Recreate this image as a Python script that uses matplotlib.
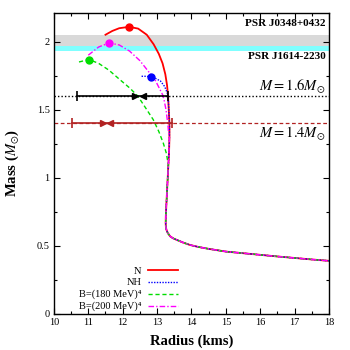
import matplotlib
matplotlib.use('Agg')
import matplotlib.pyplot as plt
from matplotlib.ticker import MultipleLocator

plt.rcParams['font.family'] = ['Liberation Serif', 'DejaVu Serif']
plt.rcParams['mathtext.fontset'] = 'stix'

# shared low-mass branch (radius km, mass Msun)
low_r = [13.36, 13.36, 13.35, 13.33, 13.31, 13.29, 13.27, 13.255, 13.25, 13.255, 13.27, 13.31,
         13.38, 13.47, 13.57, 13.75, 13.95, 14.2, 14.5, 15.0, 15.5, 16.0, 16.5, 17.0, 17.5, 18.0]
low_m = [1.40, 1.30, 1.20, 1.10, 1.00, 0.90, 0.80, 0.72, 0.67, 0.645, 0.62, 0.595,
         0.57, 0.555, 0.544, 0.525, 0.507, 0.492, 0.478, 0.458, 0.446, 0.434, 0.422, 0.411, 0.40, 0.39]

# high-mass branches of each EoS
n_r = [11.50, 11.70, 11.90, 12.19, 12.45, 12.70, 12.90, 13.05, 13.16, 13.24, 13.29, 13.32, 13.34]
n_m = [2.05, 2.078, 2.098, 2.108, 2.095, 2.05, 1.98, 1.91, 1.84, 1.76, 1.68, 1.60, 1.50]

nh_r = [12.55, 12.70, 12.81, 12.95, 13.10, 13.22, 13.30, 13.33]
nh_m = [1.745, 1.745, 1.74, 1.73, 1.71, 1.67, 1.62, 1.56]

b180_r = [10.73, 11.02, 11.30, 11.60, 11.92, 12.20, 12.44, 12.70, 12.89, 13.05, 13.18, 13.27, 13.31]
b180_m = [1.85, 1.868, 1.84, 1.79, 1.72, 1.66, 1.60, 1.50, 1.426, 1.34, 1.255, 1.18, 1.12]

b200_r = [11.00, 11.30, 11.61, 11.90, 12.20, 12.50, 12.75, 12.94, 13.10, 13.18, 13.26, 13.31, 13.34]
b200_m = [1.90, 1.96, 1.99, 1.975, 1.93, 1.86, 1.78, 1.72, 1.64, 1.60, 1.50, 1.40, 1.32]

# maximum mass points
max_r = [12.19, 12.81, 11.02, 11.61]
max_m = [2.108, 1.74, 1.868, 1.99]
colors = ['#ff0000', '#0000ff', '#00dd00', '#ff00ff']
labels = ['N', 'NH', 'B=(180 MeV)\u2074', 'B=(200 MeV)\u2074']

# pulsar bands
psr_bands = [(1.97, 2.05, '#d9d9d9'), (1.93, 1.97, '#80ffff')]

# radius constraints
bar16_r = [10.68, 13.32]
bar16_arrows = [12.37, 12.58]
bar14_r = [10.53, 13.43]
bar14_arrows = [11.42, 11.62]

fig = plt.figure(figsize=(3.5, 3.5), dpi=100)
ax = fig.add_axes([0.154, 0.103, 0.786, 0.86])

for lo, hi, c in psr_bands:
    ax.axhspan(lo, hi, color=c, lw=0, zorder=0)

ax.axhline(1.6, color='black', ls=(0, (1, 1.5)), lw=1.0, zorder=1)
ax.axhline(1.4, color='#b22222', ls=(0, (3, 2)), lw=0.9, zorder=1)

styles = [('-', 1.3), ((0, (1, 1)), 1.0), ((0, (3, 2)), 1.0), ((0, (4, 1.5, 1, 1.5)), 1.0)]
branches = [(n_r, n_m), (nh_r, nh_m), (b180_r, b180_m), (b200_r, b200_m)]
for (r, m), (ls, lw), c in zip(branches, styles, colors):
    # continue each branch along the shared low-mass branch below its last point
    tail = [i for i, v in enumerate(low_m) if v < m[-1]]
    rr = r + [low_r[i] for i in tail]
    mm = m + [low_m[i] for i in tail]
    ax.plot(rr, mm, color=c, ls=ls, lw=lw, zorder=3)
for r, m, c in zip(max_r, max_m, colors):
    ax.plot(r, m, 'o', color=c, ms=5, zorder=4)

# key drawn by hand, gnuplot style (label right-aligned, sample to the right)
for i, ((ls, lw), c, lab) in enumerate(zip(styles, colors, labels)):
    yk = 0.145 - 0.039 * i
    ax.plot([0.342, 0.451], [yk, yk], transform=ax.transAxes, color=c, ls=ls, lw=lw)
    ax.text(0.318, yk - 0.011, lab, transform=ax.transAxes, ha='right', va='baseline', fontsize=7.5)

# error bars with arrows
ax.plot(bar16_r, [1.6, 1.6], color='black', lw=1.2, zorder=5)
ax.plot(bar16_r, [1.6, 1.6], '|', color='black', ms=7, mew=1.2, zorder=5)
ax.plot(bar16_arrows[0], 1.6, '>', color='black', ms=4.5, zorder=5)
ax.plot(bar16_arrows[1], 1.6, '<', color='black', ms=4.5, zorder=5)
ax.plot(bar14_r, [1.4, 1.4], color='#b22222', lw=1.2, zorder=5)
ax.plot(bar14_r, [1.4, 1.4], '|', color='#b22222', ms=7, mew=1.2, zorder=5)
ax.plot(bar14_arrows[0], 1.4, '>', color='#b22222', ms=4.5, zorder=5)
ax.plot(bar14_arrows[1], 1.4, '<', color='#b22222', ms=4.5, zorder=5)

ax.text(17.9, 2.13, 'PSR J0348+0432', ha='right', va='center', fontsize=8, fontweight='bold')
ax.text(17.9, 1.89, 'PSR J1614-2230', ha='right', va='center', fontsize=8, fontweight='bold')
ax.text(17.9, 1.665, r'$M=1.6M_{\odot}$', ha='right', va='center', fontsize=10.5)
ax.text(17.9, 1.325, r'$M=1.4M_{\odot}$', ha='right', va='center', fontsize=10.5)

ax.set_xlim(10, 18)
ax.set_ylim(0, 2.21)
ax.set_xticks(range(10, 19))
ax.set_yticks([0, 0.5, 1, 1.5, 2])
ax.set_yticklabels(['0', '0.5', '1', '1.5', '2'])
ax.xaxis.set_minor_locator(MultipleLocator(0.5))
ax.yaxis.set_minor_locator(MultipleLocator(0.25))
ax.tick_params(which='both', direction='in', top=True, right=True, labelsize=7.5, width=0.8)
ax.tick_params(which='major', length=4, pad=3)
ax.tick_params(which='minor', length=2.5)
for s in ax.spines.values():
    s.set_linewidth(1.0)

ax.set_xlabel('Radius (kms)', fontsize=10.5, fontweight='bold', labelpad=5)
ax.set_ylabel(r'Mass ($M_{\odot}$)', fontsize=10.5, fontweight='bold', labelpad=11)

fig.savefig('out.png', dpi=100)
